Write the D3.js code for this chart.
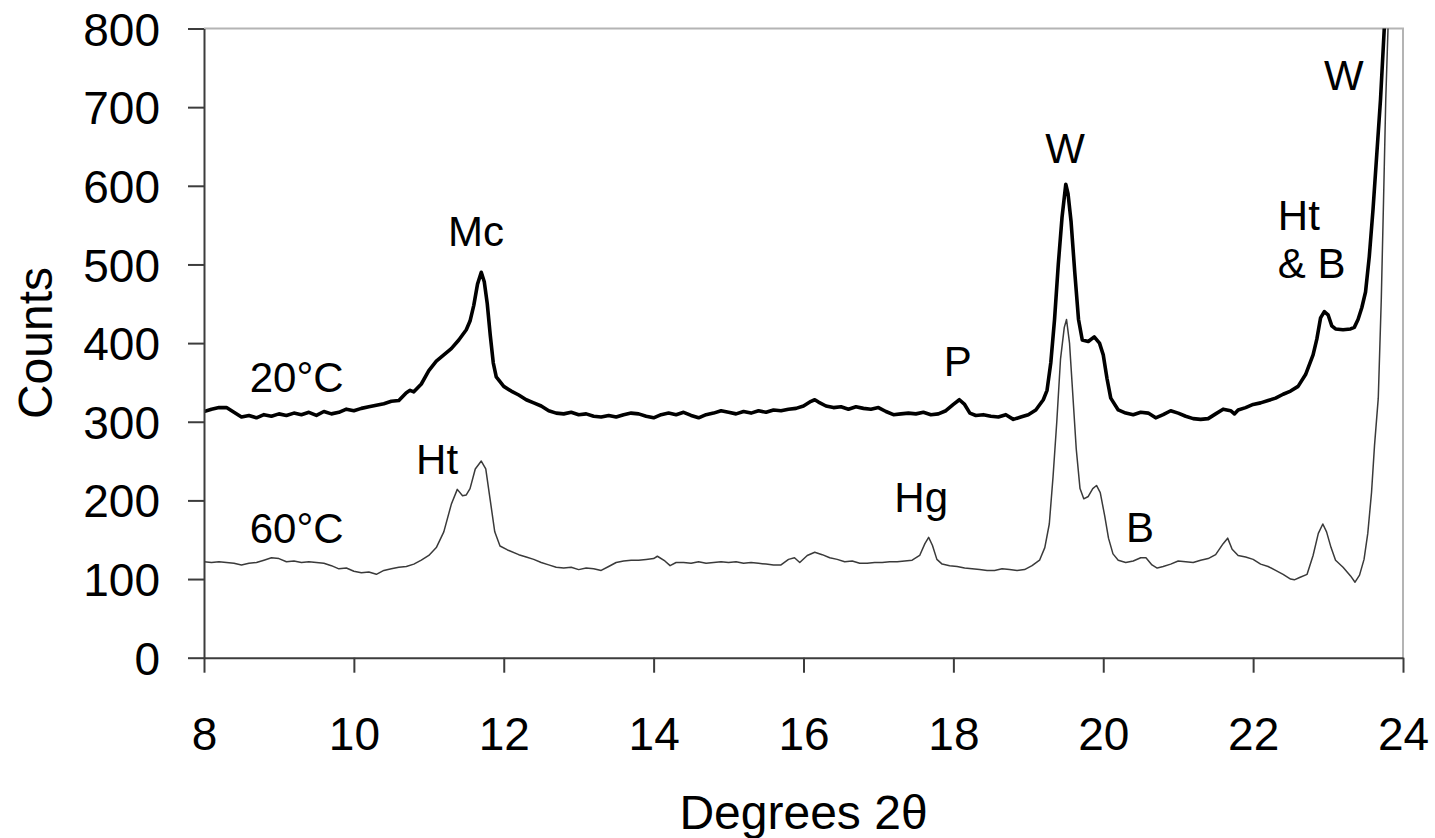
<!DOCTYPE html>
<html>
<head>
<meta charset="utf-8">
<script src="https://cdn.jsdelivr.net/npm/d3@7"></script>
<style>
  html, body { margin: 0; padding: 0; background: #fff; }
  svg text { font-family: "Liberation Sans", Arial, sans-serif; fill: #000; }
</style>
</head>
<body>
<svg id="chart" width="1435" height="838"></svg>
<script>
// XRD patterns: diffraction angle (degrees 2θ) and counts
const deg20 = [
  8.00, 8.10, 8.20, 8.30, 8.40, 8.50, 8.60, 8.70, 8.80, 8.90,
  9.00, 9.10, 9.20, 9.30, 9.40, 9.50, 9.60, 9.70, 9.80, 9.90,
  10.00, 10.10, 10.20, 10.30, 10.40, 10.50, 10.60, 10.70, 10.75, 10.80,
  10.90, 11.00, 11.10, 11.20, 11.30, 11.40, 11.50, 11.55, 11.60, 11.65,
  11.70, 11.74, 11.78, 11.82, 11.86, 11.90, 12.00, 12.10, 12.20, 12.30,
  12.40, 12.50, 12.60, 12.70, 12.80, 12.90, 13.00, 13.10, 13.20, 13.30,
  13.40, 13.50, 13.60, 13.70, 13.80, 13.90, 14.00, 14.10, 14.20, 14.30,
  14.40, 14.50, 14.60, 14.70, 14.80, 14.90, 15.00, 15.10, 15.20, 15.30,
  15.40, 15.50, 15.60, 15.70, 15.80, 15.90, 16.00, 16.10, 16.15, 16.20,
  16.30, 16.40, 16.50, 16.60, 16.70, 16.80, 16.90, 17.00, 17.10, 17.20,
  17.30, 17.40, 17.50, 17.60, 17.70, 17.80, 17.90, 18.00, 18.08, 18.15,
  18.22, 18.30, 18.40, 18.50, 18.60, 18.70, 18.80, 18.90, 19.00, 19.10,
  19.20, 19.25, 19.30, 19.35, 19.40, 19.45, 19.50, 19.53, 19.57, 19.62,
  19.67, 19.72, 19.80, 19.88, 19.95, 20.00, 20.05, 20.10, 20.20, 20.30,
  20.40, 20.50, 20.60, 20.70, 20.80, 20.90, 21.00, 21.10, 21.20, 21.30,
  21.40, 21.50, 21.60, 21.70, 21.75, 21.80, 21.90, 22.00, 22.10, 22.20,
  22.30, 22.40, 22.50, 22.60, 22.70, 22.80, 22.85, 22.90, 22.95, 23.00,
  23.05, 23.10, 23.20, 23.30, 23.35, 23.40, 23.45, 23.50, 23.55, 23.60,
  23.65, 23.70, 23.75, 23.78
];
const counts20 = [
  313, 316, 318, 318, 312, 306, 308, 305, 309, 307,
  310, 308, 311, 309, 312, 308, 313, 310, 312, 316,
  314, 317, 319, 321, 323, 326, 327, 337, 340, 338,
  348, 365, 377, 385, 393, 404, 417, 428, 448, 475,
  490, 478, 450, 410, 375, 357, 345, 339, 334, 328,
  324, 320, 314, 311, 310, 312, 309, 310, 307, 306,
  308, 306, 309, 311, 310, 307, 305, 309, 311, 309,
  312, 308, 305, 309, 311, 314, 312, 310, 313, 311,
  314, 312, 315, 314, 316, 317, 320, 326, 328, 325,
  320, 318, 319, 316, 319, 317, 316, 318, 313, 309,
  310, 311, 310, 312, 309, 310, 314, 322, 328, 322,
  311, 308, 309, 307, 306, 309, 303, 306, 309, 315,
  328, 340, 375, 430, 500, 560, 602, 590, 555, 490,
  430, 404, 402, 408, 400, 385, 355, 330, 315, 311,
  309, 312, 311, 305, 309, 314, 311, 307, 304, 303,
  304, 310, 316, 314, 310, 315, 318, 322, 324, 327,
  330, 335, 339, 345, 360, 385, 405, 432, 440, 436,
  422, 418, 417, 418, 420, 430, 445, 465, 510, 570,
  640, 710, 800, 860
];

const deg60 = [
  8.00, 8.10, 8.20, 8.30, 8.40, 8.50, 8.60, 8.70, 8.80, 8.90,
  9.00, 9.10, 9.20, 9.30, 9.40, 9.50, 9.60, 9.70, 9.80, 9.90,
  10.00, 10.10, 10.20, 10.30, 10.40, 10.50, 10.60, 10.70, 10.80, 10.90,
  11.00, 11.10, 11.20, 11.30, 11.38, 11.45, 11.50, 11.55, 11.62, 11.70,
  11.76, 11.82, 11.88, 11.95, 12.05, 12.20, 12.30, 12.40, 12.50, 12.60,
  12.70, 12.80, 12.90, 13.00, 13.10, 13.20, 13.30, 13.40, 13.50, 13.60,
  13.70, 13.80, 13.90, 14.00, 14.05, 14.15, 14.22, 14.30, 14.40, 14.50,
  14.60, 14.70, 14.80, 14.90, 15.00, 15.10, 15.20, 15.30, 15.40, 15.50,
  15.60, 15.70, 15.80, 15.88, 15.95, 16.05, 16.15, 16.25, 16.35, 16.45,
  16.55, 16.65, 16.75, 16.85, 16.95, 17.05, 17.15, 17.25, 17.35, 17.45,
  17.55, 17.62, 17.67, 17.72, 17.78, 17.85, 17.95, 18.05, 18.15, 18.25,
  18.35, 18.45, 18.55, 18.65, 18.75, 18.85, 18.95, 19.05, 19.15, 19.22,
  19.28, 19.33, 19.38, 19.43, 19.48, 19.51, 19.55, 19.59, 19.64, 19.69,
  19.74, 19.80, 19.86, 19.91, 19.96, 20.02, 20.07, 20.13, 20.20, 20.30,
  20.40, 20.50, 20.57, 20.65, 20.72, 20.80, 20.90, 21.00, 21.10, 21.20,
  21.30, 21.40, 21.50, 21.60, 21.66, 21.72, 21.80, 21.90, 22.00, 22.10,
  22.20, 22.30, 22.40, 22.50, 22.55, 22.62, 22.72, 22.80, 22.87, 22.93,
  22.98, 23.04, 23.10, 23.20, 23.30, 23.36, 23.42, 23.48, 23.53, 23.58,
  23.62, 23.67, 23.71, 23.74, 23.77, 23.80, 23.82
];
const counts60 = [
  122, 121, 122, 121, 120, 118, 120, 121, 124, 127,
  126, 122, 123, 121, 122, 121, 120, 117, 113, 114,
  110, 108, 109, 106, 111, 113, 115, 116, 119, 124,
  130, 140, 160, 195, 214, 206, 207, 215, 240, 250,
  240, 200, 160, 142, 137, 131, 128, 125, 121, 118,
  115, 114, 115, 112, 114, 113, 111, 116, 121, 123,
  124, 124, 125, 126, 129, 123, 117, 121, 121, 120,
  122, 120, 121, 122, 121, 122, 120, 121, 120, 119,
  118, 118, 125, 127, 121, 130, 134, 131, 127, 125,
  122, 123, 120, 120, 121, 121, 122, 122, 123, 124,
  130, 145, 153, 143, 125, 119, 117, 116, 114, 113,
  112, 111, 111, 113, 112, 111, 112, 117, 124, 140,
  170, 230, 300, 380, 420, 430, 400, 340, 265, 215,
  202, 205, 215, 219, 210, 180, 152, 132, 124, 121,
  123, 127, 127, 118, 114, 116, 119, 123, 122, 121,
  124, 126, 131, 145, 152, 138, 130, 128, 125, 119,
  116, 111, 106, 100, 99, 102, 106, 130, 158, 170,
  160, 140, 124, 115, 104, 96, 105, 125, 158, 210,
  270, 330, 455, 580, 710, 800, 870
];

// Axis ticks
const xTicks = [8, 10, 12, 14, 16, 18, 20, 22, 24];
const yTicks = [0, 100, 200, 300, 400, 500, 600, 700, 800];

// Peak annotations and sample labels, placed in data units
const labelText = ["20°C", "60°C", "Mc", "Ht", "Hg", "P", "W", "B", "Ht", "& B", "W"];
const labelDeg = [8.61, 8.61, 11.63, 11.11, 17.57, 18.06, 19.49, 20.49, 22.33, 22.33, 23.21];
const labelCounts = [338, 146, 523, 234, 185, 358, 629, 147, 544, 483, 722];
const labelAnchor = ["start", "start", "middle", "middle", "middle", "middle", "middle", "middle", "start", "start", "middle"];

const svg = d3.select("#chart");
const margin = { left: 204, top: 28.5, right: 32, bottom: 180.3 };
const W = 1435 - margin.left - margin.right;
const H = 838 - margin.top - margin.bottom;

const x = d3.scaleLinear().domain([8, 24]).range([0, W]);
const y = d3.scaleLinear().domain([0, 800]).range([H, 0]);

const g = svg.append("g").attr("transform", `translate(${margin.left},${margin.top})`);

g.append("clipPath").attr("id", "plot-clip")
  .append("rect").attr("x", 0).attr("y", 0).attr("width", W).attr("height", H);

// Light frame on top and right of the plot area
g.append("path")
  .attr("d", `M0,0H${W}V${H}`)
  .attr("fill", "none")
  .attr("stroke", "#b4b4b4")
  .attr("stroke-width", 2);

const line = d3.line().x(d => x(d[0])).y(d => y(d[1]));

const s60 = deg60.map((d, i) => [d, counts60[i]]);
const s20 = deg20.map((d, i) => [d, counts20[i]]);

const plot = g.append("g").attr("clip-path", "url(#plot-clip)");
plot.append("path").datum(s60)
  .attr("d", line)
  .attr("fill", "none")
  .attr("stroke", "#3a3a3a")
  .attr("stroke-width", 1.5)
  .attr("stroke-linejoin", "round");
plot.append("path").datum(s20)
  .attr("d", line)
  .attr("fill", "none")
  .attr("stroke", "#000")
  .attr("stroke-width", 3.6)
  .attr("stroke-linejoin", "round");

// Axes
const xAxis = g.append("g").attr("transform", `translate(0,${H})`)
  .call(d3.axisBottom(x).tickValues(xTicks).tickFormat(d3.format("d"))
    .tickSize(15).tickSizeOuter(0).tickPadding(45));
const yAxis = g.append("g")
  .call(d3.axisLeft(y).tickValues(yTicks).tickFormat(d3.format("d"))
    .tickSize(16).tickSizeOuter(0).tickPadding(28));

[xAxis, yAxis].forEach(a => {
  a.select(".domain").attr("stroke", "#3c3c3c").attr("stroke-width", 2);
  a.selectAll(".tick line").attr("stroke", "#3c3c3c").attr("stroke-width", 2);
  a.selectAll(".tick text")
    .attr("fill", "#000")
    .style("font-family", "'Liberation Sans', Arial, sans-serif")
    .style("font-size", "46px");
});
yAxis.selectAll(".tick text").attr("dy", "0.36em");

// Axis titles
svg.append("text")
  .attr("transform", `translate(52,343) rotate(-90)`)
  .attr("text-anchor", "middle")
  .style("font-size", "48px")
  .text("Counts");
svg.append("text")
  .attr("x", margin.left + W / 2)
  .attr("y", 829)
  .attr("text-anchor", "middle")
  .style("font-size", "48px")
  .text("Degrees 2θ");

// Peak and sample labels
g.selectAll("text.peak")
  .data(labelText)
  .join("text")
  .attr("class", "peak")
  .attr("x", (d, i) => x(labelDeg[i]))
  .attr("y", (d, i) => y(labelCounts[i]))
  .attr("text-anchor", (d, i) => labelAnchor[i])
  .style("font-size", "42px")
  .text(d => d);
</script>
</body>
</html>
